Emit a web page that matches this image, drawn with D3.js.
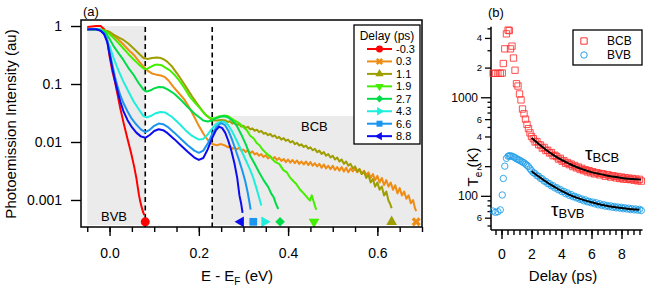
<!DOCTYPE html>
<html><head><meta charset="utf-8">
<script src="https://cdn.jsdelivr.net/npm/d3@7"></script>
<style>
body{margin:0;background:#fff}
svg{display:block}
text{font-family:"Liberation Sans",Arial,sans-serif;fill:#000}
</style>
</head><body>
<svg id="c" width="646" height="286"></svg>
<script>
// ---------------- DATA (panel a) ----------------
const delayLabels = ["-0.3","0.3","1.1","1.9","2.7","4.3","6.6","8.8"];
const cutoffE = [0.08, 0.687, 0.632, 0.458, 0.382, 0.347, 0.322, 0.294];
const bvbWindow = [-0.05, 0.08];
const bcbWindow = [0.23, 0.697];
const bvbTopI = 1.0;
const bcbTopI = 0.028;
const dashedE = [0.08, 0.23];
const xTicksA = [-0.05,0,0.05,0.1,0.15,0.2,0.25,0.3,0.35,0.4,0.45,0.5,0.55,0.6,0.65,0.7];
const xMajorA = [0,0.2,0.4,0.6];
const yTicksA = [1,0.1,0.01,0.001];

const s_m03 = [[-0.05,0.96],[-0.04,0.98],[-0.03,1.0],[-0.02,1.0],[-0.012,0.88],[-0.005,0.56],[0.0,0.3],[0.006,0.17],[0.012,0.11],[0.018,0.065],[0.024,0.038],[0.031,0.022],[0.04,0.0115],[0.048,0.0066],[0.055,0.0038],[0.06,0.0024],[0.063,0.0017],[0.066,0.0012],[0.069,0.00092],[0.072,0.00075],[0.075,0.00062],[0.078,0.00055]];
const s_03 = [[-0.05,0.87],[-0.03,0.86],[-0.015,0.84],[-0.005,0.8],[0.0,0.76],[0.009,0.68],[0.02,0.58],[0.031,0.48],[0.042,0.39],[0.054,0.32],[0.065,0.25],[0.076,0.2],[0.085,0.17],[0.095,0.152],[0.105,0.145],[0.115,0.14],[0.123,0.133],[0.132,0.115],[0.143,0.089],[0.155,0.07],[0.166,0.056],[0.178,0.04],[0.19,0.027],[0.2,0.019],[0.21,0.014],[0.22,0.0108],[0.23,0.0092],[0.24,0.0088],[0.25,0.0092],
 [0.26,0.0086],[0.265,0.0081],[0.27,0.0085],[0.275,0.0076],[0.28,0.008],[0.285,0.0075],[0.29,0.0079],[0.295,0.0071],[0.3,0.0074],[0.305,0.0067],[0.31,0.0072],[0.315,0.0064],[0.32,0.0069],[0.325,0.0061],[0.33,0.0064],[0.335,0.0058],[0.34,0.0062],[0.345,0.0055],[0.35,0.0059],[0.355,0.0052],[0.36,0.0057],[0.365,0.005],[0.37,0.0055],[0.375,0.0049],[0.38,0.0053],[0.385,0.0047],[0.39,0.0051],[0.395,0.0045],[0.4,0.005],[0.405,0.0044],[0.41,0.0049],[0.415,0.0043],[0.42,0.0048],[0.425,0.0042],[0.43,0.0046],[0.435,0.0041],[0.44,0.0046],[0.445,0.004],[0.45,0.0045],[0.455,0.0039],[0.46,0.0043],[0.465,0.0038],[0.47,0.0042],[0.475,0.0036],[0.48,0.0041],[0.485,0.0035],[0.49,0.0039],[0.495,0.0034],[0.5,0.0039],[0.505,0.0033],[0.51,0.0037],[0.515,0.0032],[0.52,0.0037],[0.525,0.0031],[0.53,0.0036],[0.535,0.003],[0.54,0.0035],[0.545,0.0031],[0.55,0.0035],[0.555,0.003],[0.56,0.0034],[0.565,0.0028],[0.57,0.0032],[0.575,0.0027],[0.58,0.003],[0.585,0.0024],[0.59,0.0028],[0.595,0.0022],[0.6,0.0026],[0.605,0.002],[0.61,0.0024],[0.615,0.0018],[0.62,0.0022],[0.625,0.0017],[0.63,0.002],[0.635,0.0015],[0.64,0.0018],[0.645,0.0013],[0.65,0.0016],[0.655,0.0012],[0.66,0.0014],[0.665,0.00105],[0.67,0.0012],[0.675,0.00088],[0.68,0.001],[0.684,0.00073],[0.687,0.00064]];
const s_11 = [[-0.05,0.87],[-0.03,0.87],[-0.015,0.85],[-0.005,0.82],[0.0,0.79],[0.009,0.71],[0.02,0.64],[0.031,0.575],[0.042,0.5],[0.054,0.41],[0.065,0.34],[0.076,0.28],[0.085,0.27],[0.095,0.28],[0.106,0.287],[0.115,0.28],[0.122,0.265],[0.129,0.243],[0.14,0.2],[0.151,0.153],[0.162,0.115],[0.173,0.085],[0.185,0.061],[0.196,0.046],[0.207,0.035],[0.218,0.028],[0.23,0.0238],[0.24,0.0235],[0.25,0.024],
 [0.26,0.0235],[0.265,0.0221],[0.27,0.0228],[0.275,0.0209],[0.28,0.0215],[0.285,0.0197],[0.29,0.0205],[0.295,0.0185],[0.3,0.019],[0.305,0.0175],[0.31,0.0183],[0.315,0.0165],[0.32,0.0172],[0.325,0.0156],[0.33,0.0163],[0.335,0.0148],[0.34,0.0155],[0.345,0.0139],[0.35,0.0144],[0.355,0.0131],[0.36,0.0138],[0.365,0.0124],[0.37,0.013],[0.375,0.0117],[0.38,0.0123],[0.385,0.011],[0.39,0.0117],[0.395,0.0105],[0.4,0.011],[0.405,0.0098],[0.41,0.0104],[0.415,0.0092],[0.42,0.0097],[0.425,0.0087],[0.43,0.0091],[0.435,0.0082],[0.44,0.0087],[0.445,0.0077],[0.45,0.0081],[0.455,0.0072],[0.46,0.0076],[0.465,0.0067],[0.47,0.0071],[0.475,0.0062],[0.48,0.0067],[0.485,0.0058],[0.49,0.0062],[0.495,0.0054],[0.5,0.0058],[0.505,0.005],[0.51,0.0054],[0.515,0.0046],[0.52,0.005],[0.525,0.0042],[0.53,0.0046],[0.535,0.0039],[0.54,0.0042],[0.545,0.0035],[0.55,0.0038],[0.555,0.0031],[0.56,0.0034],[0.565,0.0028],[0.57,0.0031],[0.575,0.0024],[0.58,0.0027],[0.585,0.002],[0.59,0.0023],[0.595,0.0017],[0.6,0.002],[0.605,0.0015],[0.61,0.0017],[0.615,0.0012],[0.62,0.0014],[0.625,0.00097],[0.628,0.00088],[0.632,0.00072]];
const s_19 = [[-0.05,0.88],[-0.03,0.88],[-0.02,0.87],[-0.01,0.82],[0.0,0.72],[0.009,0.62],[0.02,0.51],[0.031,0.41],[0.042,0.33],[0.054,0.265],[0.065,0.22],[0.076,0.185],[0.083,0.18],[0.092,0.198],[0.1,0.212],[0.108,0.216],[0.117,0.21],[0.126,0.19],[0.135,0.172],[0.147,0.14],[0.158,0.11],[0.169,0.082],[0.18,0.06],[0.192,0.047],[0.203,0.038],[0.214,0.03],[0.225,0.026],[0.235,0.0255],[0.245,0.0275],[0.255,0.0285],[0.265,0.028],[0.28,0.0235],[0.29,0.0212],[0.3,0.018],[0.308,0.0158],[0.315,0.0128],[0.323,0.0115],[0.33,0.0095],[0.336,0.0088],[0.342,0.0075],[0.352,0.0063],[0.36,0.0056],[0.37,0.0046],[0.38,0.0042],[0.389,0.0033],[0.397,0.003],[0.405,0.0024],[0.412,0.0021],[0.418,0.0019],[0.427,0.0015],[0.435,0.0013],[0.443,0.0011],[0.449,0.00098],[0.453,0.0012],[0.457,0.00095],[0.46,0.0008],[0.463,0.00068]];
const s_27 = [[-0.05,0.88],[-0.03,0.88],[-0.02,0.86],[-0.01,0.78],[0.0,0.6],[0.009,0.45],[0.02,0.34],[0.031,0.26],[0.042,0.19],[0.054,0.143],[0.065,0.104],[0.076,0.08],[0.083,0.074],[0.092,0.078],[0.1,0.084],[0.11,0.089],[0.12,0.088],[0.13,0.081],[0.145,0.068],[0.16,0.053],[0.175,0.04],[0.19,0.031],[0.2,0.027],[0.21,0.0235],[0.22,0.0225],[0.23,0.0235],[0.24,0.026],[0.25,0.0275],[0.258,0.0278],[0.266,0.0265],[0.275,0.0235],[0.285,0.019],[0.295,0.0135],[0.305,0.0092],[0.315,0.0058],[0.325,0.0042],[0.335,0.003],[0.345,0.0022],[0.355,0.0017],[0.362,0.0013],[0.368,0.0011],[0.373,0.00085],[0.378,0.0007]];
const s_43 = [[-0.05,0.88],[-0.03,0.88],[-0.02,0.86],[-0.01,0.7],[0.0,0.45],[0.009,0.28],[0.02,0.17],[0.031,0.11],[0.042,0.075],[0.054,0.05],[0.065,0.037],[0.076,0.028],[0.083,0.0265],[0.092,0.028],[0.102,0.031],[0.114,0.033],[0.125,0.0322],[0.14,0.027],[0.155,0.021],[0.17,0.016],[0.185,0.0127],[0.2,0.011],[0.21,0.0113],[0.22,0.0135],[0.23,0.0172],[0.24,0.0208],[0.25,0.0225],[0.258,0.0222],[0.266,0.0195],[0.275,0.015],[0.285,0.0105],[0.295,0.0072],[0.305,0.0049],[0.315,0.0033],[0.322,0.0024],[0.329,0.0016],[0.335,0.0011],[0.34,0.0008]];
const s_66 = [[-0.05,0.88],[-0.04,0.88],[-0.03,0.88],[-0.02,0.84],[-0.012,0.74],[-0.005,0.55],[0.0,0.36],[0.006,0.22],[0.012,0.135],[0.018,0.09],[0.024,0.064],[0.031,0.047],[0.04,0.034],[0.05,0.025],[0.06,0.02],[0.07,0.0165],[0.08,0.0148],[0.09,0.0162],[0.1,0.019],[0.11,0.0208],[0.12,0.0203],[0.13,0.0183],[0.145,0.0145],[0.16,0.0113],[0.175,0.0088],[0.19,0.0071],[0.2,0.0065],[0.21,0.0071],[0.22,0.0094],[0.23,0.0138],[0.24,0.0185],[0.25,0.0212],[0.258,0.0198],[0.266,0.0158],[0.274,0.0112],[0.282,0.0075],[0.29,0.0049],[0.298,0.0031],[0.304,0.0021],[0.309,0.0014],[0.313,0.00095],[0.316,0.00068]];
const s_88 = [[-0.05,0.87],[-0.04,0.88],[-0.03,0.88],[-0.02,0.83],[-0.012,0.72],[-0.005,0.52],[0.0,0.33],[0.006,0.19],[0.012,0.115],[0.018,0.075],[0.024,0.05],[0.031,0.034],[0.04,0.024],[0.05,0.018],[0.06,0.0145],[0.07,0.0125],[0.08,0.0118],[0.09,0.0132],[0.1,0.0155],[0.11,0.0166],[0.12,0.016],[0.13,0.0142],[0.145,0.0112],[0.16,0.0087],[0.175,0.0068],[0.19,0.0054],[0.2,0.0049],[0.21,0.0053],[0.22,0.0075],[0.23,0.0118],[0.238,0.0158],[0.245,0.0183],[0.252,0.0175],[0.259,0.0145],[0.266,0.0105],[0.273,0.007],[0.28,0.0042],[0.286,0.0024],[0.291,0.0012],[0.295,0.00085],[0.298,0.0006]];
const seriesA = [s_m03, s_03, s_11, s_19, s_27, s_43, s_66, s_88];

// ---------------- DATA (panel b) ----------------
const delays = [-0.56,-0.4,-0.24,-0.08,0.05,0.12,0.22,0.33,0.44,0.52,0.6,0.7,0.8,0.9,1.0,1.1,1.2,1.3,1.4,1.5,1.6,1.7,1.8,1.9,2.0,
 2.12,2.24,2.36,2.48,2.6,2.72,2.84,2.96,3.08,3.2,3.32,3.44,3.56,3.68,3.8,3.92,4.04,4.16,4.28,4.4,4.52,4.64,4.76,4.88,5.0,5.12,5.24,5.36,5.48,5.6,5.72,5.84,5.96,6.08,6.2,6.32,6.44,6.56,6.68,6.8,6.92,7.04,7.16,7.28,7.4,7.52,7.64,7.76,7.88,8.0,8.12,8.24,8.36,8.48,8.6,8.72,8.84,8.96,9.08,9.2,9.32];
const teBCB = [1750,1750,1750,1750,1760,2200,3100,4400,4800,4750,3100,3300,2500,1880,1370,1300,1080,940,760,680,600,530,480,435,400,
 380,352,356,330,328,305,310,288,290,272,275,255,258,250,236,240,225,228,214,218,207,210,198,203,192,196,185,190,180,184,175,180,171,176,167,172,170,163,168,166,158,164,162,155,160,158,152,157,150,155,148,153,147,151,146,150,144,148,142,147,141];
const teBVB = [70,68,69,72,102,150,200,240,252,255,254,252,248,244,238,233,230,225,220,216,210,204,198,188,180,
 172,168,160,158,150,149,141,140,133,133,126,127,120,121,115,116,110,111,105,107,101,103,98,99,95,96,92,93,89,91,87,88,85,86.5,83,85,81,83,80,81.5,78.5,80,77.5,79,76.5,78,75.5,77,75,76.5,74,75.5,73.5,75,72.5,74,72,73.5,71.5,73,71];
const fitBCBt = [2.0,2.5,3.0,3.5,4.0,4.5,5.0,5.5,6.0,6.5,7.0,7.5,8.0,8.5,9.0,9.3];
const fitBCBT = [388,334,290,257,231,212,196,184,174,167,161,156,152,149,147,146];
const fitBVBt = [2.0,2.5,3.0,3.5,4.0,4.5,5.0,5.5,6.0,6.5,7.0,7.5,8.0,8.5,9.0,9.2];
const fitBVBT = [178,156,138,124,112,103,96,90.4,85.9,82.2,79.3,77,75.2,73.7,72.6,72.2];
const xTicksB = [-0.4,0,0.4,0.8,1.2,1.6,2,2.4,2.8,3.2,3.6,4,4.4,4.8,5.2,5.6,6,6.4,6.8,7.2,7.6,8,8.4,8.8,9.2];
const xMajorB = [0,2,4,6,8];
const yTicksB = [50,60,70,80,90,100,200,300,400,500,600,700,800,900,1000,2000,3000,4000,5000];
const yLabelsB = {60:"6",100:"100",200:"2",400:"4",600:"6",1000:"1000",2000:"2",4000:"4"};

// ---------------- STYLE ----------------
const colors = ["#ff0000","#ee8c14","#9e9e00","#44ee00","#00dc48","#1eeedc","#1a96f0","#0c0cee"];
const symTypes = [d3.symbolCircle,d3.symbolCross,d3.symbolTriangle,d3.symbolTriangle,d3.symbolSquare,d3.symbolTriangle,d3.symbolSquare,d3.symbolTriangle];
const symRot = [0,45,0,180,45,90,0,-90];
const symSize = [64,52,50,50,46,50,60,50];

const svg = d3.select("#c");

// ================= PANEL A =================
const xA = d3.scaleLinear().domain([-0.064, 0.7]).range([81, 422]);
const yA = d3.scaleLog().domain([0.000342, 1.27]).range([227, 20]);
const gA = svg.append("g");
const botA = yA.range()[0];

gA.append("rect").attr("x", xA(bvbWindow[0])).attr("y", yA(bvbTopI))
  .attr("width", xA(bvbWindow[1]) - xA(bvbWindow[0])).attr("height", botA - 2 - yA(bvbTopI)).attr("fill", "#ebebeb");
gA.append("rect").attr("x", xA(bcbWindow[0])).attr("y", yA(bcbTopI))
  .attr("width", xA(bcbWindow[1]) - xA(bcbWindow[0])).attr("height", botA - 2 - yA(bcbTopI)).attr("fill", "#ebebeb");

gA.selectAll("line.dash").data(dashedE).enter().append("line")
  .attr("x1", d => xA(d)).attr("x2", d => xA(d)).attr("y1", yA(1) + 1).attr("y2", botA)
  .attr("stroke", "#000").attr("stroke-width", 1.6).attr("stroke-dasharray", "5,3.5");

gA.append("text").attr("x", 101).attr("y", 221).attr("font-size", 13).text("BVB");
gA.append("text").attr("x", 301).attr("y", 131).attr("font-size", 13).text("BCB");

const lineA = d3.line().x(d => xA(d[0])).y(d => yA(d[1]));
seriesA.forEach((s, i) => {
  gA.append("path").datum(s).attr("d", lineA).attr("fill", "none")
    .attr("stroke", colors[i]).attr("stroke-width", 2).attr("stroke-linejoin", "round");
});
const markerY = yA(0.00042);
cutoffE.forEach((e, i) => {
  gA.append("path").attr("d", d3.symbol().type(symTypes[i]).size(symSize[i])())
    .attr("transform", `translate(${xA(e)},${markerY}) rotate(${symRot[i]})`)
    .attr("fill", colors[i]);
});

// axes A
const axMinA = d3.axisBottom(xA).tickValues(xTicksA).tickSize(5).tickFormat("");
gA.append("g").attr("transform", `translate(0,${botA})`).call(axMinA)
  .call(g => g.select(".domain").remove())
  .call(g => g.selectAll("line").attr("stroke-width", 1.4));
const axMajA = d3.axisBottom(xA).tickValues(xMajorA).tickSize(9).tickPadding(12).tickFormat(d3.format(".1f"));
gA.append("g").attr("transform", `translate(0,${botA})`).call(axMajA)
  .call(g => g.select(".domain").remove())
  .call(g => g.selectAll("line").attr("stroke-width", 1.4))
  .call(g => g.selectAll("text").attr("font-size", 14).attr("font-family", '"Liberation Sans",Arial,sans-serif'));
const axYA = d3.axisLeft(yA).tickValues(yTicksA).tickSize(10).tickPadding(9).tickFormat(d => String(d));
gA.append("g").attr("transform", `translate(${xA.range()[0]},0)`).call(axYA)
  .call(g => g.select(".domain").remove())
  .call(g => g.selectAll("line").attr("stroke-width", 1.4))
  .call(g => g.selectAll("text").attr("font-size", 14).attr("font-family", '"Liberation Sans",Arial,sans-serif'));

gA.append("rect").attr("x", xA.range()[0]).attr("y", yA.range()[1])
  .attr("width", xA.range()[1] - xA.range()[0]).attr("height", botA - yA.range()[1])
  .attr("fill", "none").attr("stroke", "#000").attr("stroke-width", 1.5);

// legend A
const lg = gA.append("g");
lg.append("rect").attr("x", 354).attr("y", 25).attr("width", 66).attr("height", 119)
  .attr("fill", "#fff").attr("stroke", "#000").attr("stroke-width", 1.3);
lg.append("text").attr("x", 387).attr("y", 39.5).attr("text-anchor", "middle").attr("font-size", 12).text("Delay (ps)");
delayLabels.forEach((lab, i) => {
  const yy = 49 + i * 12.45;
  lg.append("line").attr("x1", 367).attr("x2", 392).attr("y1", yy).attr("y2", yy)
    .attr("stroke", colors[i]).attr("stroke-width", 2);
  lg.append("path").attr("d", d3.symbol().type(symTypes[i]).size(symSize[i] * 0.6)())
    .attr("transform", `translate(379.5,${yy}) rotate(${symRot[i]})`).attr("fill", colors[i]);
  lg.append("text").attr("x", 396).attr("y", yy + 4).attr("font-size", 11).text(lab);
});

gA.append("text").attr("x", 83).attr("y", 16).attr("font-size", 13).text("(a)");
gA.append("text").attr("transform", "translate(16,124) rotate(-90)").attr("text-anchor", "middle")
  .attr("font-size", 15).text("Photoemission Intensity (au)");
const xl = gA.append("text").attr("x", 237).attr("y", 281).attr("text-anchor", "middle").attr("font-size", 15);
xl.append("tspan").text("E - E");
xl.append("tspan").attr("font-size", 10).attr("dy", 4).text("F");
xl.append("tspan").attr("dy", -4).text(" (eV)");

// ================= PANEL B =================
const xB = d3.scaleLinear().domain([-0.7, 9.4]).range([491, 642.5]);
const yB = d3.scaleLog().domain([45, 5200]).range([230, 26.7]);
const gB = svg.append("g");
const botB = yB.range()[0];

const axMinB = d3.axisBottom(xB).tickValues(xTicksB).tickSize(5).tickFormat("");
gB.append("g").attr("transform", `translate(0,${botB})`).call(axMinB)
  .call(g => g.select(".domain").remove())
  .call(g => g.selectAll("line").attr("stroke-width", 1.4));
const axMajB = d3.axisBottom(xB).tickValues(xMajorB).tickSize(9).tickPadding(10).tickFormat(d3.format("d"));
gB.append("g").attr("transform", `translate(0,${botB})`).call(axMajB)
  .call(g => g.select(".domain").remove())
  .call(g => g.selectAll("line").attr("stroke-width", 1.4))
  .call(g => g.selectAll("text").attr("font-size", 14).attr("font-family", '"Liberation Sans",Arial,sans-serif'));
const axYB = d3.axisLeft(yB).tickValues(yTicksB).tickSize(4).tickFormat(d => yLabelsB[d] || "");
gB.append("g").attr("transform", `translate(${xB.range()[0]},0)`).call(axYB)
  .call(g => g.select(".domain").remove())
  .call(g => g.selectAll(".tick").each(function(d) {
      const t = d3.select(this);
      const major = (d === 100 || d === 1000);
      const lab = yLabelsB[d] !== undefined;
      const len = major ? 10 : (lab ? 6 : 3.5);
      t.select("line").attr("x2", -len).attr("stroke-width", 1.3);
      t.select("text").attr("x", -len - 3).attr("font-size", major ? 12 : 9.5)
        .attr("font-family", '"Liberation Sans",Arial,sans-serif');
  }));
gB.append("line").attr("x1", xB.range()[0]).attr("x2", xB.range()[0]).attr("y1", yB.range()[1]).attr("y2", botB)
  .attr("stroke", "#000").attr("stroke-width", 1.5);
gB.append("line").attr("x1", xB.range()[0]).attr("x2", xB.range()[1]).attr("y1", botB).attr("y2", botB)
  .attr("stroke", "#000").attr("stroke-width", 1.5);

const bcbPts = delays.map((t, i) => [t, teBCB[i]]);
const bvbPts = delays.map((t, i) => [t, teBVB[i]]);
gB.append("g").selectAll("path").data(bcbPts).enter().append("path")
  .attr("d", d3.symbol().type(d3.symbolSquare).size(40)())
  .attr("transform", d => `translate(${xB(d[0])},${yB(d[1])})`)
  .attr("fill", "none").attr("stroke", "#ff3030").attr("stroke-width", 1).attr("stroke-opacity", 0.85);
gB.append("g").selectAll("circle").data(bvbPts).enter().append("circle")
  .attr("cx", d => xB(d[0])).attr("cy", d => yB(d[1])).attr("r", 3.2)
  .attr("fill", "none").attr("stroke", "#22a0ea").attr("stroke-width", 1).attr("stroke-opacity", 0.9);

const lineB = d3.line().x(d => xB(d[0])).y(d => yB(d[1])).curve(d3.curveMonotoneX);
gB.append("path").datum(fitBCBt.map((t, i) => [t, fitBCBT[i]])).attr("d", lineB)
  .attr("fill", "none").attr("stroke", "#000").attr("stroke-width", 2);
gB.append("path").datum(fitBVBt.map((t, i) => [t, fitBVBT[i]])).attr("d", lineB)
  .attr("fill", "none").attr("stroke", "#000").attr("stroke-width", 2);

const SERIF = '"Liberation Serif","Times New Roman",serif';
const t1 = gB.append("text").attr("x", 585).attr("y", 160).attr("font-family", SERIF).attr("font-size", 19);
t1.append("tspan").text("τ");
t1.append("tspan").attr("font-size", 13).attr("dy", 2).text("BCB");
const t2 = gB.append("text").attr("x", 551).attr("y", 216).attr("font-family", SERIF).attr("font-size", 19);
t2.append("tspan").text("τ");
t2.append("tspan").attr("font-size", 13).attr("dy", 2).text("BVB");

gB.append("rect").attr("x", 573).attr("y", 30).attr("width", 69).attr("height", 35)
  .attr("fill", "#fff").attr("stroke", "#000").attr("stroke-width", 1.3);
gB.append("path").attr("d", d3.symbol().type(d3.symbolSquare).size(40)())
  .attr("transform", "translate(584,41)").attr("fill", "none").attr("stroke", "#ff3030").attr("stroke-width", 1);
gB.append("circle").attr("cx", 584).attr("cy", 55).attr("r", 3.2)
  .attr("fill", "none").attr("stroke", "#22a0ea").attr("stroke-width", 1);
gB.append("text").attr("x", 607).attr("y", 45).attr("font-size", 12).text("BCB");
gB.append("text").attr("x", 607).attr("y", 59).attr("font-size", 12).text("BVB");

gB.append("text").attr("x", 488).attr("y", 17).attr("font-size", 13).text("(b)");
const yl = gB.append("text").attr("transform", "translate(478,167) rotate(-90)").attr("text-anchor", "middle").attr("font-size", 15);
yl.append("tspan").text("T");
yl.append("tspan").attr("font-size", 10).attr("dy", 4).text("e");
yl.append("tspan").attr("dy", -4).text(" (K)");
gB.append("text").attr("x", 563).attr("y", 281).attr("text-anchor", "middle").attr("font-size", 15).text("Delay (ps)");
</script>
</body></html>
